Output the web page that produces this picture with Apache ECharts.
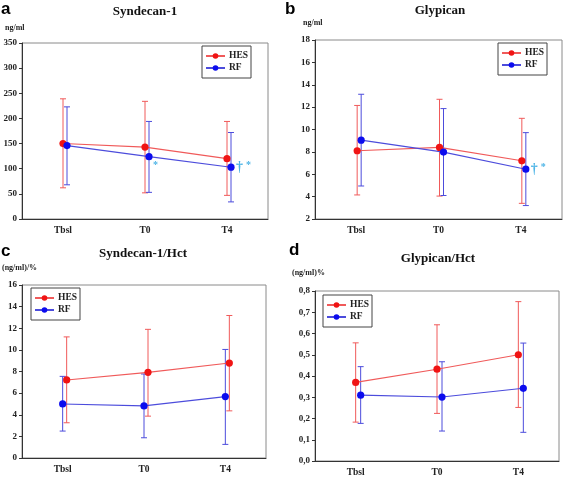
<!DOCTYPE html>
<html><head><meta charset="utf-8">
<script src="https://cdn.jsdelivr.net/npm/echarts@6/dist/echarts.min.js"></script>
<style>html,body{margin:0;padding:0;background:#fff}#c{width:566px;height:478px}</style>
</head><body><div id="c"></div>
<script>
// ---- data ----
const categories = ['Tbsl', 'T0', 'T4'];

// a: Syndecan-1 (ng/ml)
const synHesMean = [150, 143, 120];
const synHesLow  = [62, 52, 47];
const synHesHigh = [239, 234, 194];
const synRfMean  = [146, 124, 103];
const synRfLow   = [68, 53, 34];
const synRfHigh  = [223, 194, 172];
const synRfNotes = ['', '*', '†*'];

// b: Glypican (ng/ml)
const glyHesMean = [8.1, 8.4, 7.2];
const glyHesLow  = [4.15, 4.05, 3.4];
const glyHesHigh = [12.15, 12.7, 11.0];
const glyRfMean  = [9.05, 7.98, 6.45];
const glyRfLow   = [4.95, 4.1, 3.2];
const glyRfHigh  = [13.15, 11.87, 9.72];
const glyRfNotes = ['', '', '†*'];

// c: Syndecan-1/Hct ((ng/ml)/%)
const synHctHesMean = [7.22, 7.92, 8.78];
const synHctHesLow  = [3.26, 3.87, 4.36];
const synHctHesHigh = [11.2, 11.9, 13.18];
const synHctRfMean  = [5.0, 4.82, 5.68];
const synHctRfLow   = [2.49, 1.87, 1.26];
const synHctRfHigh  = [7.55, 7.77, 10.04];

// d: Glypican/Hct ((ng/ml)%)
const glyHctHesMean = [0.37, 0.432, 0.5];
const glyHctHesLow  = [0.183, 0.224, 0.252];
const glyHctHesHigh = [0.556, 0.641, 0.75];
const glyHctRfMean  = [0.31, 0.301, 0.342];
const glyHctRfLow   = [0.177, 0.141, 0.135];
const glyHctRfHigh  = [0.444, 0.467, 0.555];

const seriesNames = ['HES', 'RF'];
const panelTitles = ['Syndecan-1', 'Glypican', 'Syndecan-1/Hct', 'Glypican/Hct'];
const panelLetters = ['a', 'b', 'c', 'd'];
const panelUnits = ['ng/ml', 'ng/ml', '(ng/ml)/%', '(ng/ml)%'];

// ---- styles ----
const SERIF = '"Liberation Serif", "Times New Roman", serif';
const SANS = '"Liberation Sans", Arial, sans-serif';
const HES = {marker: '#f01414', line: '#f05a5a'};
const RF = {marker: '#0c0cee', line: '#4c4cdc'};
const NOTE = '#4cb4e6';

const grids = [
  {left: 22, top: 43, width: 246, height: 176},
  {left: 315, top: 40, width: 247, height: 179},
  {left: 22, top: 285, width: 244, height: 173},
  {left: 315, top: 291, width: 244, height: 171}
];
const yAxes = [
  {min: 0, max: 350, interval: 50, fmt: v => String(v)},
  {min: 2, max: 18, interval: 2, fmt: v => String(v)},
  {min: 0, max: 16, interval: 2, fmt: v => String(v)},
  {min: 0, max: 0.8, interval: 0.1, fmt: v => v.toFixed(1).replace('.', ',')}
];

function errSeries(gi, col, mean, low, high, dx, notes) {
  return {
    type: 'custom', xAxisIndex: gi, yAxisIndex: gi, silent: true,
    data: categories.map((c, i) => [i, mean[i], low[i], high[i]]),
    renderItem: function (params, api) {
      const i = api.value(0);
      const p = api.coord([i, api.value(1)]);
      const lo = api.coord([i, api.value(2)]);
      const hi = api.coord([i, api.value(3)]);
      const x = p[0] + dx;
      const ls = {stroke: col.line, lineWidth: 1};
      const ch = [
        {type: 'line', z2: 1, shape: {x1: x, y1: lo[1], x2: x, y2: hi[1]}, style: ls},
        {type: 'line', z2: 1, shape: {x1: x - 3, y1: lo[1], x2: x + 3, y2: lo[1]}, style: ls},
        {type: 'line', z2: 1, shape: {x1: x - 3, y1: hi[1], x2: x + 3, y2: hi[1]}, style: ls},
        {type: 'circle', z2: 10, shape: {cx: x, cy: p[1], r: 3.6}, style: {fill: col.marker}}
      ];
      if (i < mean.length - 1) {
        const n = api.coord([i + 1, mean[i + 1]]);
        ch.push({type: 'line', z2: 2, shape: {x1: x, y1: p[1], x2: n[0] + dx, y2: n[1]},
          style: {stroke: col.line, lineWidth: 1.1}});
      }
      if (notes && notes[i]) {
        const t = notes[i];
        if (t.length > 1) {
          ch.push({type: 'text', z2: 12, x: x + 5, y: p[1],
            style: {text: '{d|†}{s|*}', verticalAlign: 'middle', align: 'left',
              rich: {d: {fontSize: 14, fill: NOTE, fontFamily: SERIF, fontWeight: 'bold'},
                     s: {fontSize: 10, fill: NOTE, fontFamily: SERIF, fontWeight: 'bold', padding: [0, 0, 4, 3]}}}});
        } else {
          ch.push({type: 'text', z2: 12, x: x + 4, y: p[1] + 9,
            style: {text: t, verticalAlign: 'middle', align: 'left',
              fontSize: 10, fill: NOTE, fontFamily: SERIF, fontWeight: 'bold'}});
        }
      }
      return {type: 'group', children: ch};
    }
  };
}

const panels = [
  [[synHesMean, synHesLow, synHesHigh, 0, null], [synRfMean, synRfLow, synRfHigh, 4, synRfNotes]],
  [[glyHesMean, glyHesLow, glyHesHigh, 1, null], [glyRfMean, glyRfLow, glyRfHigh, 5, glyRfNotes]],
  [[synHctHesMean, synHctHesLow, synHctHesHigh, 4, null], [synHctRfMean, synHctRfLow, synHctRfHigh, 0, null]],
  [[glyHctHesMean, glyHctHesLow, glyHctHesHigh, 0, null], [glyHctRfMean, glyHctRfLow, glyHctRfHigh, 5, null]]
];

const series = [];
panels.forEach((pp, gi) => {
  series.push(errSeries(gi, HES, pp[0][0], pp[0][1], pp[0][2], pp[0][3], pp[0][4]));
  series.push(errSeries(gi, RF, pp[1][0], pp[1][1], pp[1][2], pp[1][3], pp[1][4]));
});
// legend-only line series
series.push({type: 'line', name: seriesNames[0], xAxisIndex: 0, yAxisIndex: 0, data: [],
  symbol: 'circle', symbolSize: 7, itemStyle: {color: HES.marker}, lineStyle: {color: HES.line, width: 1.2}});
series.push({type: 'line', name: seriesNames[1], xAxisIndex: 0, yAxisIndex: 0, data: [],
  symbol: 'circle', symbolSize: 7, itemStyle: {color: RF.marker}, lineStyle: {color: RF.line, width: 1.2}});

const legendPos = [
  {left: 202, top: 46}, {left: 498, top: 43}, {left: 31, top: 288}, {left: 323, top: 295}
];

const option = {
  animation: false,
  backgroundColor: '#fff',
  grid: grids.map(g => Object.assign({show: true, borderColor: '#8a8a8a', borderWidth: 1, backgroundColor: 'transparent'}, g)),
  xAxis: grids.map((g, gi) => ({
    type: 'category', gridIndex: gi, data: categories, boundaryGap: true,
    axisLine: {lineStyle: {color: '#333', width: 1}},
    axisTick: {alignWithLabel: true, length: 3, lineStyle: {color: '#333'}},
    axisLabel: {margin: 7, fontFamily: SERIF, fontWeight: 'bold', fontSize: 9.5, color: '#222'}
  })),
  yAxis: yAxes.map((y, gi) => ({
    type: 'value', gridIndex: gi, min: y.min, max: y.max, interval: y.interval,
    splitLine: {show: false},
    axisLine: {show: true, lineStyle: {color: '#333', width: 1}},
    axisTick: {show: true, length: 3, lineStyle: {color: '#333'}},
    axisLabel: {margin: 5, fontFamily: SERIF, fontWeight: 'bold', fontSize: 9, color: '#222', formatter: y.fmt}
  })),
  legend: legendPos.map(lp => ({
    left: lp.left, top: lp.top, orient: 'vertical', data: seriesNames,
    borderColor: '#444', borderWidth: 1, padding: [5, 3, 5, 3], itemGap: 2,
    itemWidth: 19, itemHeight: 7, selectedMode: false,
    textStyle: {fontFamily: SERIF, fontWeight: 'bold', fontSize: 9.5, color: '#222', padding: [0, 0, 0, -1]}
  })),
  graphic: [].concat(
    [[145, 12], [440, 11], [143, 254], [438, 259]].map((p, i) => ({
      type: 'text', x: p[0], y: p[1],
      style: {text: panelTitles[i], align: 'center', verticalAlign: 'middle', fontFamily: SERIF, fontWeight: 'bold', fontSize: 13, fill: '#111'}
    })),
    [[1, 9], [285, 9], [1, 251], [289, 250]].map((p, i) => ({
      type: 'text', x: p[0], y: p[1],
      style: {text: panelLetters[i], align: 'left', verticalAlign: 'middle', fontFamily: SANS, fontWeight: 'bold', fontSize: 17, fill: '#000'}
    })),
    [[5, 28], [303, 23], [2, 268], [292, 273]].map((p, i) => ({
      type: 'text', x: p[0], y: p[1],
      style: {text: panelUnits[i], align: 'left', verticalAlign: 'middle', fontFamily: SERIF, fontWeight: 'bold', fontSize: 8, fill: '#222'}
    }))
  ),
  series: series
};
const chart = echarts.init(document.getElementById('c'), null, {renderer: 'canvas'});
chart.setOption(option);
</script></body></html>
